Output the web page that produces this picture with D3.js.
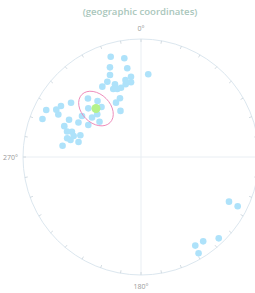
<!DOCTYPE html>
<html>
<head>
<meta charset="utf-8">
<script src="https://cdn.jsdelivr.net/npm/d3@7"></script>
<style>
  body { margin: 0; background: #fff; }
  svg { display: block; font-family: "Open Sans", sans-serif; }
</style>
</head>
<body>
<div id="chart"></div>
<script>
// poles: trend (deg, clockwise from north) and plunge (deg)
const trend = [343.2, 350.4, 340.9, 351.2, 339.3, 352.9, 348.6, 352.4, 335.9, 340.3,
               331.2, 337.8, 340.8, 343.9, 348.1, 5.0, 340.3, 335.3, 336.0,
               317.8, 322.2, 321.7, 312.7, 314.3,
               304.8, 298.9, 301.3, 310.4, 308.9, 297.4, 291.9,
               307.8, 302.5, 299.2, 296.4, 297.2, 291.1,
               289.0, 290.1, 287.3, 284.2, 283.6, 289.7, 283.5, 278.2,
               116.9, 117.0, 136.3, 143.6, 148.5, 149.1];
const plunge = [12.2, 16.3, 20.7, 24.9, 26.6, 32.0, 33.9, 36.3, 30.8, 34.9,
                32.5, 37.8, 38.9, 38.8, 37.1, 30.3, 46.1, 48.0, 54.8,
                33.5, 39.7, 45.1, 39.1, 47.0,
                39.0, 39.3, 46.6, 51.9, 45.7, 31.9, 30.6,
                25.9, 20.7, 18.9, 11.3, 22.3, 11.5,
                34.1, 37.7, 40.0, 35.7, 38.5, 44.6, 44.7, 33.3,
                17.5, 8.9, 5.2, 12.2, 13.0, 5.6];

// mean direction and its confidence ellipse (half-angles in degrees)
const meanTrend = 317.1;
const meanPlunge = 43.3;
const ellipseMajor = 13.7;
const ellipseMinor = 9.8;
const ellipseAzimuth = 135;

// the 90° label falls outside the visible frame in the reference
const axisLabels = [{ deg: 0, text: "0°" }, { deg: 180, text: "180°" }, { deg: 270, text: "270°" }];
const subtitle = "(geographic coordinates)";

const width = 255, height = 293;
const cx = 141, cy = 157, R = 118;

const svg = d3.select("#chart").append("svg")
    .attr("width", width)
    .attr("height", height);

// equal-area (Schmidt) net: normalized distance from centre
const eqArea = p => Math.SQRT2 * Math.sin((90 - p) / 2 * Math.PI / 180);
const rScale = d3.scaleLinear().domain([0, 1]).range([0, R]);
const aScale = d3.scaleLinear().domain([0, 360]).range([0, 2 * Math.PI]);

function project(t, p) {
    const a = aScale(t), r = rScale(eqArea(p));
    return [cx + r * Math.sin(a), cy - r * Math.cos(a)];
}

svg.append("text")
    .attr("x", 140)
    .attr("y", 15)
    .attr("text-anchor", "middle")
    .attr("font-size", 9.6)
    .attr("font-weight", 600)
    .attr("fill", "#a9c6bb")
    .text(subtitle);

const g = svg.append("g");

// primitive circle and cross
g.append("circle")
    .attr("cx", cx).attr("cy", cy).attr("r", R)
    .attr("fill", "none")
    .attr("stroke", "#dce7ef")
    .attr("stroke-width", 1);

g.append("line")
    .attr("x1", cx - R).attr("x2", cx + R)
    .attr("y1", cy).attr("y2", cy)
    .attr("stroke", "#e9eef3");
g.append("line")
    .attr("x1", cx).attr("x2", cx)
    .attr("y1", cy - R).attr("y2", cy + R)
    .attr("stroke", "#e9eef3");

// ticks every 10 degrees
const ticks = d3.range(0, 360, 10);
g.selectAll(".tick")
    .data(ticks)
    .join("line")
    .attr("class", "tick")
    .attr("x1", d => cx + R * Math.sin(aScale(d)))
    .attr("y1", d => cy - R * Math.cos(aScale(d)))
    .attr("x2", d => cx + (R - 3) * Math.sin(aScale(d)))
    .attr("y2", d => cy - (R - 3) * Math.cos(aScale(d)))
    .attr("stroke", "#c9d3da")
    .attr("stroke-width", 0.8);

// azimuth labels
g.selectAll(".lab")
    .data(axisLabels)
    .join("text")
    .attr("class", "lab")
    .attr("x", d => cx + (R + 11) * Math.sin(aScale(d.deg)))
    .attr("y", d => cy - (R + 11) * Math.cos(aScale(d.deg)) + 2.5)
    .attr("text-anchor", d => d.deg === 270 ? "end" : "middle")
    .attr("dx", d => d.deg === 270 ? 6 : 0)
    .attr("font-size", 7)
    .attr("fill", "#9a9a9a")
    .text(d => d.text);

// poles
const poles = trend.map((t, i) => project(t, plunge[i]));
g.selectAll(".pole")
    .data(poles)
    .join("circle")
    .attr("class", "pole")
    .attr("cx", d => d[0])
    .attr("cy", d => d[1])
    .attr("r", 3.3)
    .attr("fill", "#aee2fa");

// mean + confidence ellipse
const m = project(meanTrend, meanPlunge);
g.append("ellipse")
    .attr("cx", m[0]).attr("cy", m[1])
    .attr("rx", rScale(eqArea(90 - ellipseMajor)))
    .attr("ry", rScale(eqArea(90 - ellipseMinor)))
    .attr("transform", `rotate(${ellipseAzimuth - 90},${m[0]},${m[1]})`)
    .attr("fill", "none")
    .attr("stroke", "#ec86b8")
    .attr("stroke-width", 0.9);

g.append("circle")
    .attr("cx", m[0]).attr("cy", m[1])
    .attr("r", 4.5)
    .attr("fill", "#b5f28a");
</script>
</body>
</html>
